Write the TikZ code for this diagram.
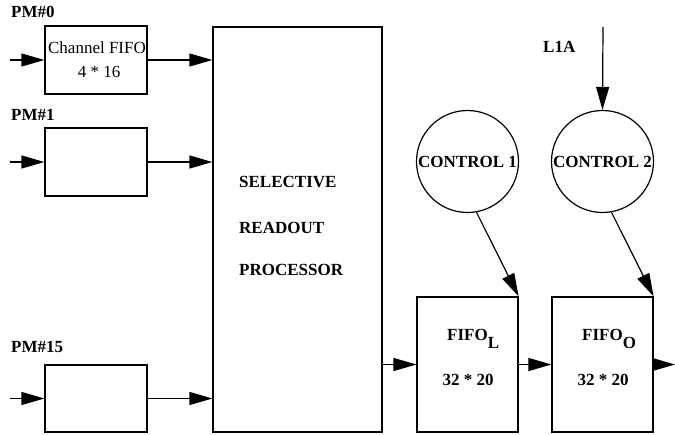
\documentclass[tikz,border=0pt]{standalone}
\usepackage{fontspec}
\setmainfont{Liberation Serif}
\usetikzlibrary{arrows.meta}
\begin{document}
\begin{tikzpicture}[x=1pt,y=-1pt,
  every node/.style={font=\fontsize{17}{20}\selectfont},
  lbl/.style={font=\fontsize{17}{20}\selectfont\bfseries, inner sep=0pt},
  txt/.style={inner sep=0pt},
  blk/.style={draw, line width=1.2pt, inner sep=0pt, rectangle},
  ctl/.style={draw, line width=1.2pt, circle, inner sep=0pt, minimum size=102pt, font=\fontsize{17}{20}\selectfont\bfseries},
  arr/.style={line width=1.2pt, -{Triangle[length=23pt,width=13pt]}},
  ln/.style={line width=1.2pt}]
\useasboundingbox (0,0) rectangle (675,434);
% input FIFOs
\node[blk, minimum width=102pt, minimum height=68pt] (b0) at (96,60) {};
\node[blk, minimum width=102pt, minimum height=68pt] (b1) at (96,162) {};
\node[blk, minimum width=102pt, minimum height=67pt] (b15) at (96,398.5) {};
\node[txt] (t0a) at (97,48) {Channel FIFO};
\node[txt] (t0b) at (99,72) {4 * 16};
% labels
\node[lbl, anchor=west] (pm0) at (11,12) {PM\#0};
\node[lbl, anchor=west] (pm1) at (11,115) {PM\#1};
\node[lbl, anchor=west] (pm15) at (11,347) {PM\#15};
% processor
\node[blk, minimum width=169pt, minimum height=405pt] (srp) at (297.5,229.5) {};
\node[lbl, anchor=west] (s1) at (239,182) {SELECTIVE};
\node[lbl, anchor=west] (s2) at (239,228) {READOUT};
\node[lbl, anchor=west] (s3) at (239,270) {PROCESSOR};
% output FIFOs
\node[blk, minimum width=101pt, minimum height=135pt] (fl) at (467.5,364.5) {};
\node[blk, minimum width=101pt, minimum height=135pt] (fo) at (602.5,364.5) {};
\node[lbl, anchor=base west] (flt) at (447,340) {FIFO\raisebox{-8pt}{L}};
\node[lbl] (fln) at (468,380) {32 * 20};
\node[lbl, anchor=base west] (fot) at (582,340) {FIFO\raisebox{-8pt}{O}};
\node[lbl] (fon) at (603,380) {32 * 20};
% controls
\node[ctl] (c1) at (467.5,161.5) {CONTROL 1};
\node[ctl] (c2) at (602.5,161.5) {CONTROL 2};
\node[lbl, anchor=west] (l1a) at (543,47) {L1A};
% free ends
\coordinate (i0) at (10,60);
\coordinate (i1) at (10,162);
\coordinate (i15) at (10,398.5);
\coordinate (l1top) at (603,27);
\coordinate (outend) at (675,364.5);
% connectors
\draw[arr] (i0) -- (b0.west);
\draw[arr] (i1) -- (b1.west);
\draw[arr] (i15) -- (b15.west);
\draw[arr] (b0.east) -- (b0.east -| srp.west);
\draw[arr] (b1.east) -- (b1.east -| srp.west);
\draw[arr] (b15.east) -- (b15.east -| srp.west);
\draw[arr] (fl.west -| srp.east) -- (fl.west);
\draw[arr] (fl.east) -- (fo.west);
\draw[arr] (fo.east) -- (outend);
\draw[arr] (l1top) -- (c2.north);
\draw[arr] (c1.-80) -- (fl.north east);
\draw[arr] (c2.-80) -- (fo.north east);
\end{tikzpicture}
\end{document}
